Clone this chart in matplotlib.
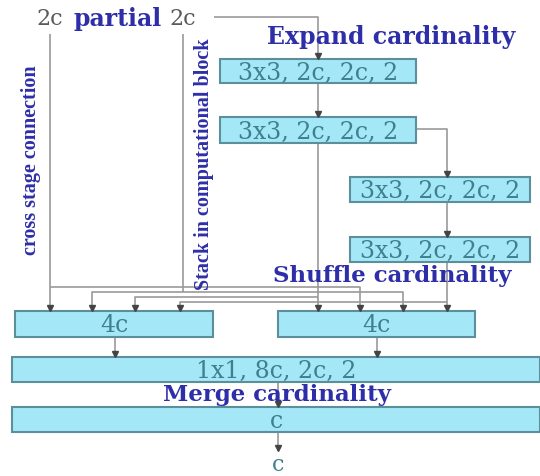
import matplotlib
matplotlib.use("Agg")
import matplotlib.pyplot as plt
from matplotlib.patches import Rectangle

# ---- content ----
top_labels = ["2c", "partial", "2c"]
block_labels = ["3x3, 2c, 2c, 2", "3x3, 2c, 2c, 2", "3x3, 2c, 2c, 2", "3x3, 2c, 2c, 2"]
concat_labels = ["4c", "4c"]
merge_labels = ["1x1, 8c, 2c, 2", "c"]
output_label = "c"
stage_titles = ["Expand cardinality", "Shuffle cardinality", "Merge cardinality"]
side_titles = ["cross stage connection", "Stack in computational block"]

# ---- layout (pixel coordinates) ----
W, H = 540, 477
block_boxes = [(220, 60, 416, 84), (220, 118, 416, 144), (350, 178, 530, 203), (350, 238, 530, 263)]
concat_boxes = [(15, 312, 213, 338), (278, 312, 475, 338)]
merge_boxes = [(12, 358, 540, 383), (12, 408, 540, 433)]

FILL = "#a4e8f7"
EDGE = "#5c8e9b"
BOXTXT = "#3f7f8e"
BLUE = "#2e2ea8"
GRAY = "#5a5a5a"
LINE = "#9a9a9a"
HEAD = "#444444"

fig = plt.figure(figsize=(W / 100, H / 100), dpi=100)
ax = fig.add_axes([0, 0, 1, 1])
ax.set_xlim(0, W)
ax.set_ylim(H, 0)
ax.axis("off")


def line(xs, ys):
    ax.plot(xs, ys, color=LINE, lw=1.2, solid_capstyle="butt", zorder=1)


def head(x, y):
    ax.plot([x], [y - 3], marker="v", ms=5, color=HEAD, mec=HEAD, zorder=3)


def box(b, label, fs=17):
    x0, y0, x1, y1 = b
    ax.add_patch(Rectangle((x0, y0), x1 - x0, y1 - y0, facecolor=FILL,
                           edgecolor=EDGE, lw=1.5, zorder=2))
    ax.text((x0 + x1) / 2, (y0 + y1) / 2 + 1, label, ha="center", va="center",
            fontsize=fs, color=BOXTXT, family="DejaVu Serif", zorder=4)


# top line from "2c" to first block
line([214, 318, 318], [18, 18, 60]); head(318, 60)
line([318, 318], [84, 118]); head(318, 118)
# block 2 -> right concat (first input)
line([318, 318], [144, 312]); head(318, 312)
# block 2 -> block 3 -> block 4 -> right concat
line([416, 447, 447], [130, 130, 178]); head(447, 178)
line([447, 447], [203, 238]); head(447, 238)
line([447, 447], [263, 312]); head(447, 312)

# cross stage connection
line([50, 50], [35, 312]); head(50, 312)
line([50, 360, 360], [288, 288, 312]); head(360, 312)
# stack in computational block
line([183, 183], [35, 293])
line([92, 92, 403, 403], [312, 293, 293, 312]); head(92, 312); head(403, 312)
# block 2 output to left concat
line([135, 135, 318], [312, 298, 298]); head(135, 312)
# block 4 output to left concat
line([180, 180, 447], [312, 303, 303]); head(180, 312)

# concat -> merge
line([115, 115], [338, 358]); head(115, 358)
line([377, 377], [338, 358]); head(377, 358)
line([278, 278], [383, 408]); head(278, 408)
line([278, 278], [433, 452]); head(278, 452)

for b, lab in zip(block_boxes, block_labels):
    box(b, lab)
for b, lab in zip(concat_boxes, concat_labels):
    box(b, lab)
for b, lab in zip(merge_boxes, merge_labels):
    box(b, lab)

ax.text(278, 465, output_label, ha="center", va="center", fontsize=16,
        color=BOXTXT, family="DejaVu Serif")

# top "2c partial 2c"
ax.text(50, 19, top_labels[0], ha="center", va="center", fontsize=16, color=GRAY, family="DejaVu Serif")
ax.text(118, 19, top_labels[1], ha="center", va="center", fontsize=17, color=BLUE,
        family="DejaVu Serif", fontweight="bold")
ax.text(183, 19, top_labels[2], ha="center", va="center", fontsize=16, color=GRAY, family="DejaVu Serif")

# stage titles
ax.text(391, 37, stage_titles[0], ha="center", va="center", fontsize=17, color=BLUE,
        family="DejaVu Serif", fontweight="bold", zorder=5)
ax.text(392, 276, stage_titles[1], ha="center", va="center", fontsize=16.5, color=BLUE,
        family="DejaVu Serif", fontweight="bold", zorder=5)
ax.text(277, 395, stage_titles[2], ha="center", va="center", fontsize=16.5, color=BLUE,
        family="DejaVu Serif", fontweight="bold", zorder=5)

# side titles
ax.text(31, 160, side_titles[0], ha="center", va="center", rotation=90, fontsize=14.5,
        color=BLUE, family="Liberation Serif", fontweight="bold")
ax.text(204, 164, side_titles[1], ha="center", va="center", rotation=90, fontsize=14.5,
        color=BLUE, family="Liberation Serif", fontweight="bold")

fig.savefig("out.png", dpi=100)
